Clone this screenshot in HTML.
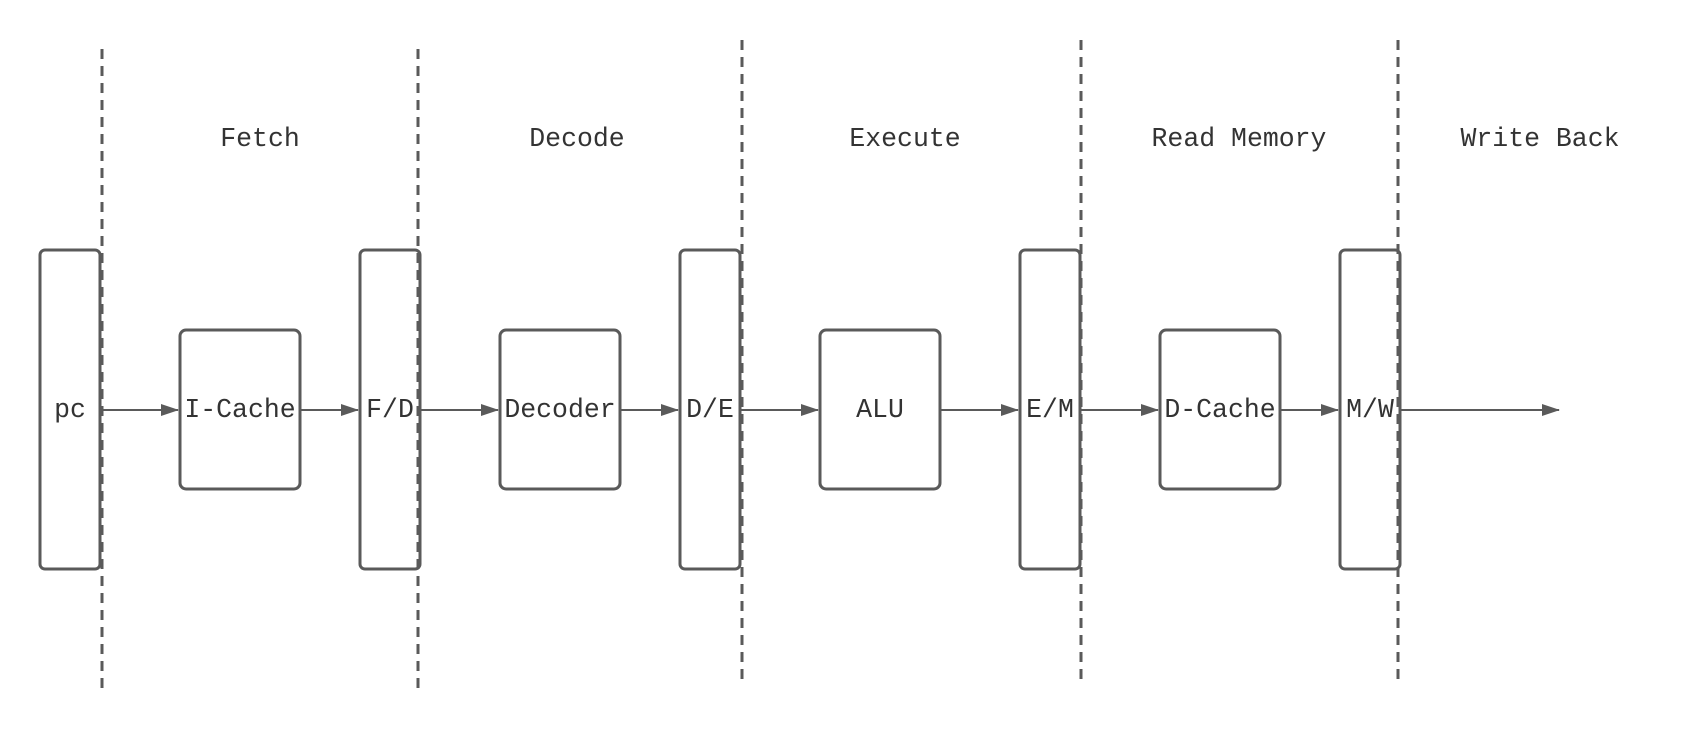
<!DOCTYPE html>
<html><head><meta charset="utf-8"><style>
html,body{margin:0;padding:0;background:#fff;}
svg{display:block;}
text{font-family:"Liberation Mono",monospace;font-size:26.5px;fill:#333;text-anchor:middle;dominant-baseline:central;}
</style></head><body>
<svg width="1700" height="730" viewBox="0 0 1700 730" xmlns="http://www.w3.org/2000/svg">
<defs><marker id="a" markerWidth="18" markerHeight="12" refX="17" refY="6" orient="auto" markerUnits="userSpaceOnUse"><path d="M0,0 L18,6 L0,12 z" fill="#5a5a5a"/></marker></defs>
<g stroke="#5a5a5a" stroke-width="3" fill="none">
<rect x="40" y="250" width="60" height="319" rx="5"/>
<rect x="360" y="250" width="60" height="319" rx="5"/>
<rect x="680" y="250" width="60" height="319" rx="5"/>
<rect x="1020" y="250" width="60" height="319" rx="5"/>
<rect x="1340" y="250" width="60" height="319" rx="5"/>
<rect x="180" y="330" width="120" height="159" rx="6"/>
<rect x="500" y="330" width="120" height="159" rx="6"/>
<rect x="820" y="330" width="120" height="159" rx="6"/>
<rect x="1160" y="330" width="120" height="159" rx="6"/>
<g stroke-dasharray="10 7">
<line x1="102" y1="49" x2="102" y2="690"/>
<line x1="418" y1="49" x2="418" y2="690"/>
<line x1="742" y1="40" x2="742" y2="681"/>
<line x1="1081" y1="40" x2="1081" y2="681"/>
<line x1="1398" y1="40" x2="1398" y2="681"/>
</g>
<g stroke-width="2" marker-end="url(#a)">
<line x1="100" y1="410" x2="178" y2="410"/>
<line x1="300" y1="410" x2="358" y2="410"/>
<line x1="420" y1="410" x2="498" y2="410"/>
<line x1="620" y1="410" x2="678" y2="410"/>
<line x1="740" y1="410" x2="818" y2="410"/>
<line x1="940" y1="410" x2="1018" y2="410"/>
<line x1="1080" y1="410" x2="1158" y2="410"/>
<line x1="1280" y1="410" x2="1338" y2="410"/>
<line x1="1400" y1="410" x2="1559" y2="410"/>
</g>
</g>
<text x="260" y="139">Fetch</text>
<text x="577" y="139">Decode</text>
<text x="905" y="139">Execute</text>
<text x="1239" y="139">Read Memory</text>
<text x="1540" y="139">Write Back</text>
<text x="70" y="410">pc</text>
<text x="390" y="410">F/D</text>
<text x="710" y="410">D/E</text>
<text x="1050" y="410">E/M</text>
<text x="1370" y="410">M/W</text>
<text x="240" y="410">I-Cache</text>
<text x="560" y="410">Decoder</text>
<text x="880" y="410">ALU</text>
<text x="1220" y="410">D-Cache</text>
</svg>
</body></html>
